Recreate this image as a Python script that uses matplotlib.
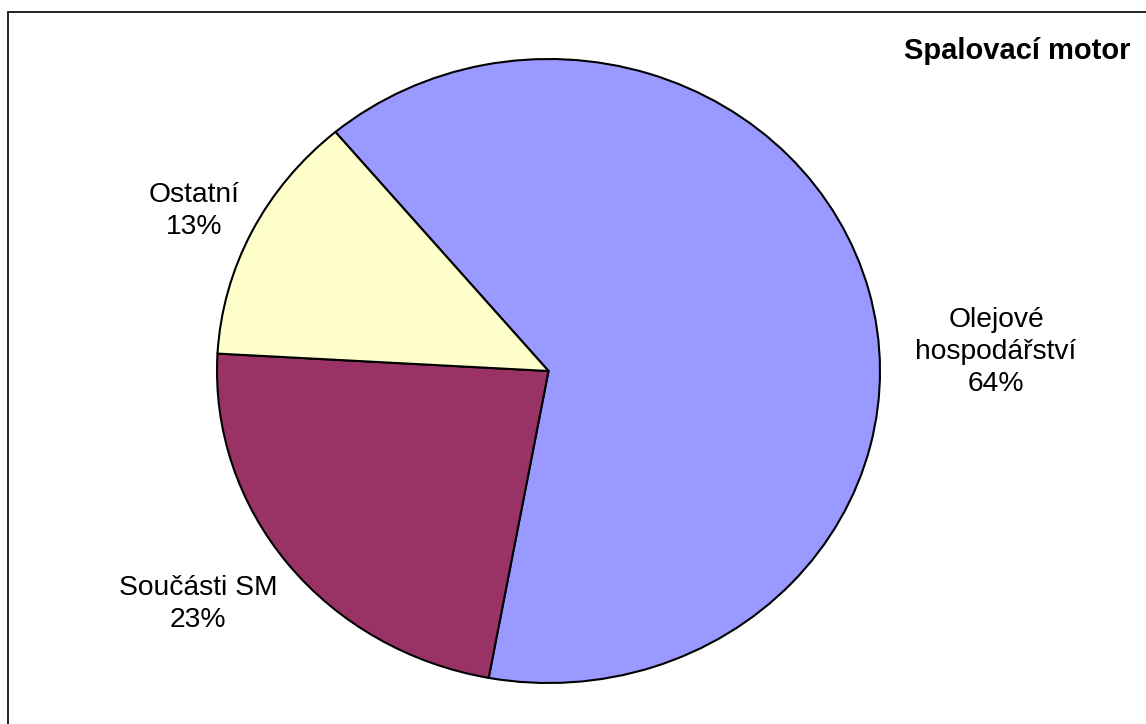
import matplotlib
matplotlib.use("Agg")
import matplotlib.pyplot as plt
from matplotlib.patches import Rectangle

plt.rcParams['font.family'] = ['Liberation Sans', 'DejaVu Sans']

labels = ["Olejové\nhospodářství", "Součásti SM", "Ostatní"]
values = [64, 23, 13]
colors = ["#9999FF", "#993366", "#FFFFCC"]
title = "Spalovací motor"

W, H = 1146, 724
fig = plt.figure(figsize=(W / 100, H / 100), dpi=100)

# figure border: left at x=8 px, top at y=12 px; right/bottom edges fall outside the image
left_px, top_px = 8, 12
fig.patches.append(Rectangle((left_px / W, -10 / H), (W + 20 - left_px) / W, (H - top_px + 10) / H,
                             transform=fig.transFigure, fill=False, edgecolor='black',
                             linewidth=1.2))

# pie axes (ellipse: x 217..880, y 59..683 px)
ax = fig.add_axes([217 / W, 1 - 683 / H, 663 / W, 624 / H])
wedges, _ = ax.pie(values, colors=colors, startangle=130, counterclock=False,
                   wedgeprops=dict(edgecolor='black', linewidth=1.5))
ax.set_aspect('auto')
ax.set_xlim(-1, 1)
ax.set_ylim(-1, 1)
ax.axis('off')

def fx(px):
    return px / W

def fy(py):
    return 1 - py / H

total = sum(values)
label_pos = [(996, 352), (198, 604), (194, 211)]
for lab, v, (px, py) in zip(labels, values, label_pos):
    fig.text(fx(px), fy(py), f"{lab}\n{round(100 * v / total)}%", ha='center', va='center',
             fontsize=20.3, linespacing=1.3)

fig.text(fx(1130), fy(51), title, ha='right', va='center', fontsize=21, fontweight='bold')

fig.savefig("out.png", dpi=100)
